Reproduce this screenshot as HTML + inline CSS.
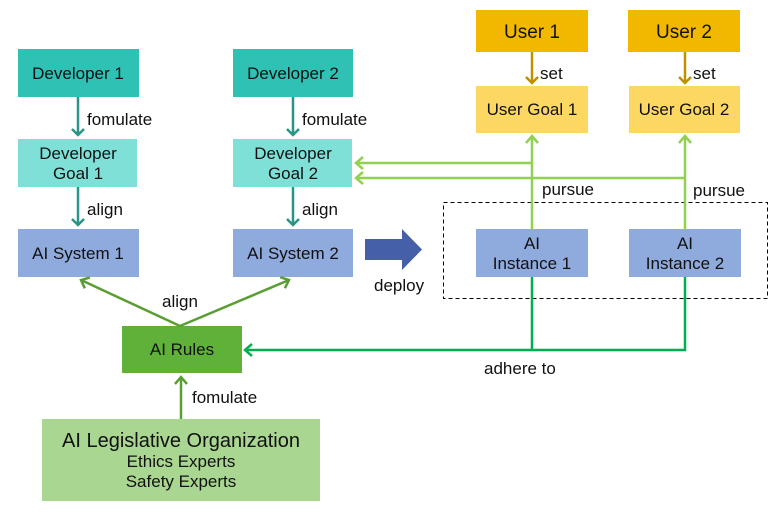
<!DOCTYPE html>
<html><head><style>
body{margin:0;background:#fff;}
svg text{font-family:"Liberation Sans",sans-serif;fill:#111;}
</style></head><body>
<svg width="775" height="511" viewBox="0 0 775 511" xmlns="http://www.w3.org/2000/svg">
<defs>
<marker id="mt" markerWidth="14" markerHeight="14" refX="7" refY="7" orient="auto" markerUnits="userSpaceOnUse"><path d="M1,1 L7,7 L1,13" fill="none" stroke="#2a9486" stroke-width="2.5"/></marker>
<marker id="mo" markerWidth="14" markerHeight="14" refX="7" refY="7" orient="auto" markerUnits="userSpaceOnUse"><path d="M1,1 L7,7 L1,13" fill="none" stroke="#bf9000" stroke-width="2.5"/></marker>
<marker id="ml" markerWidth="14" markerHeight="14" refX="8" refY="7" orient="auto" markerUnits="userSpaceOnUse"><path d="M1,1 L8,7 L1,13" fill="none" stroke="#92d050" stroke-width="2.5"/></marker>
<marker id="md" markerWidth="14" markerHeight="14" refX="8" refY="7" orient="auto" markerUnits="userSpaceOnUse"><path d="M1,1 L8,7 L1,13" fill="none" stroke="#00b050" stroke-width="2.5"/></marker>
<marker id="mg" markerWidth="14" markerHeight="14" refX="8" refY="7" orient="auto" markerUnits="userSpaceOnUse"><path d="M1,1 L8,7 L1,13" fill="none" stroke="#5a9e33" stroke-width="2.5"/></marker>
</defs>
<g font-size="17" text-anchor="middle">
<rect x="18" y="49" width="121" height="48" fill="#2fc1b4"/><text x="78" y="79">Developer 1</text>
<rect x="233" y="49" width="120" height="48" fill="#2fc1b4"/><text x="293" y="79">Developer 2</text>
<rect x="18" y="139" width="119" height="48" fill="#7fe0d8"/><text x="78" y="159">Developer</text><text x="78" y="179">Goal 1</text>
<rect x="233" y="139" width="119" height="48" fill="#7fe0d8"/><text x="293" y="159">Developer</text><text x="293" y="179">Goal 2</text>
<rect x="18" y="229" width="121" height="48" fill="#8faadc"/><text x="78" y="259">AI System 1</text>
<rect x="233" y="229" width="120" height="48" fill="#8faadc"/><text x="293" y="259">AI System 2</text>
<rect x="476" y="10" width="112" height="42" fill="#f2b800"/><text x="532" y="38" font-size="19">User 1</text>
<rect x="628" y="10" width="112" height="42" fill="#f2b800"/><text x="684" y="38" font-size="19">User 2</text>
<rect x="476" y="86" width="112" height="47" fill="#fcd863"/><text x="532" y="115">User Goal 1</text>
<rect x="629" y="86" width="111" height="47" fill="#fcd863"/><text x="684" y="115">User Goal 2</text>
<rect x="476" y="229" width="112" height="48" fill="#8faadc"/><text x="532" y="249">AI</text><text x="532" y="269">Instance 1</text>
<rect x="629" y="229" width="112" height="48" fill="#8faadc"/><text x="685" y="249">AI</text><text x="685" y="269">Instance 2</text>
<rect x="122" y="326" width="120" height="47" fill="#5fb13a"/><text x="182" y="355">AI Rules</text>
<rect x="42" y="419" width="278" height="82" fill="#a9d690"/><text x="181" y="447" font-size="20">AI Legislative Organization</text><text x="181" y="467">Ethics Experts</text><text x="181" y="487">Safety Experts</text>
</g>
<rect x="443.5" y="202.5" width="324" height="96" fill="none" stroke="#000" stroke-width="1" stroke-dasharray="4,3"/>
<path d="M365,239 H402 V229 L422,249.5 L402,270 V260 H365 Z" fill="#4560a6"/>
<g stroke-width="2.5" fill="none">
<line x1="78" y1="97" x2="78" y2="135" stroke="#2a9486" marker-end="url(#mt)"/>
<line x1="293" y1="97" x2="293" y2="135" stroke="#2a9486" marker-end="url(#mt)"/>
<line x1="78" y1="187" x2="78" y2="225" stroke="#2a9486" marker-end="url(#mt)"/>
<line x1="293" y1="187" x2="293" y2="225" stroke="#2a9486" marker-end="url(#mt)"/>
<line x1="532" y1="52" x2="532" y2="83" stroke="#bf9000" marker-end="url(#mo)"/>
<line x1="685" y1="52" x2="685" y2="83" stroke="#bf9000" marker-end="url(#mo)"/>
<line x1="532" y1="229" x2="532" y2="136" stroke="#92d050" marker-end="url(#ml)"/>
<line x1="685" y1="229" x2="685" y2="136" stroke="#92d050" marker-end="url(#ml)"/>
<line x1="532" y1="163" x2="356" y2="163" stroke="#92d050" marker-end="url(#ml)"/>
<line x1="685" y1="178" x2="356" y2="178" stroke="#92d050" marker-end="url(#ml)"/>
<polyline points="532,277 532,350 245,350" stroke="#00b050" marker-end="url(#md)"/>
<polyline points="685,277 685,350 532,350" stroke="#00b050"/>
<line x1="180" y1="326" x2="81" y2="280" stroke="#5a9e33" marker-end="url(#mg)"/>
<line x1="180" y1="326" x2="289" y2="280" stroke="#5a9e33" marker-end="url(#mg)"/>
<line x1="181" y1="419" x2="181" y2="377" stroke="#5a9e33" marker-end="url(#mg)"/>
</g>
<g font-size="17">
<text x="87" y="125">fomulate</text>
<text x="302" y="125">fomulate</text>
<text x="87" y="215">align</text>
<text x="302" y="215">align</text>
<text x="540" y="79">set</text>
<text x="693" y="79">set</text>
<text x="542" y="195">pursue</text>
<text x="693" y="196">pursue</text>
<text x="374" y="291">deploy</text>
<text x="162" y="307">align</text>
<text x="484" y="374">adhere to</text>
<text x="192" y="403">fomulate</text>
</g>
</svg>
</body></html>
